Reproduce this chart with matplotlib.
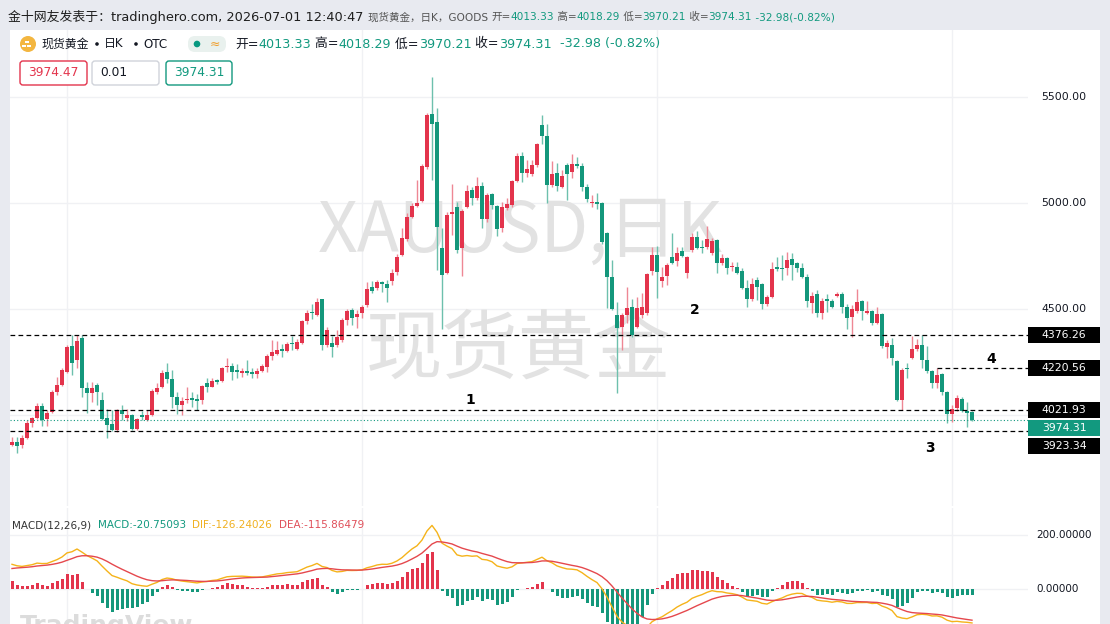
import numpy as np
import matplotlib
matplotlib.use("Agg")
import matplotlib.pyplot as plt
from matplotlib.patches import Rectangle, FancyBboxPatch, Circle

plt.rcParams['font.family'] = ['DejaVu Sans', 'Noto Sans CJK SC']

# 现货黄金 日K  (open / high / low / close), 10 candles per row
opens = [
    3858, 3874, 3859, 3890, 3961, 3984, 4042, 3980, 4016, 4110,
    4142, 4204, 4325, 4259, 4362, 4126, 4102, 4142, 4071, 3984,
    3958, 3929, 4024, 3984, 4000, 3932, 4000, 3976, 4000, 4110,
    4134, 4204, 4168, 4083, 4047, 4071, 4079, 4077, 4071, 4152,
    4134, 4165, 4162, 4225, 4231, 4212, 4200, 4209, 4203, 4193,
    4209, 4228, 4278, 4288, 4313, 4303, 4341, 4310, 4338, 4445,
    4487, 4472, 4546, 4330, 4341, 4330, 4354, 4448, 4495, 4461,
    4483, 4519, 4605, 4597, 4629, 4618, 4634, 4676, 4755, 4829,
    4935, 4986, 5011, 5171, 5420, 5384, 4786, 4668, 4948, 4980,
    4786, 4983, 5061, 5022, 5080, 4923, 5042, 4986, 4881, 4975,
    4991, 5105, 5222, 5143, 5137, 5179, 5368, 5316, 5085, 5140,
    5077, 5179, 5148, 5184, 5175, 5077, 4998, 5005, 5002, 4860,
    4650, 4472, 4417, 4472, 4508, 4417, 4472, 4480, 4681, 4755,
    4633, 4656, 4747, 4728, 4775, 4668, 4778, 4838, 4794, 4794,
    4764, 4825, 4715, 4739, 4697, 4700, 4681, 4598, 4546, 4637,
    4618, 4524, 4555, 4697, 4692, 4692, 4734, 4715, 4692, 4650,
    4530, 4571, 4483, 4546, 4539, 4561, 4571, 4511, 4464, 4492,
    4539, 4483, 4492, 4435, 4476, 4319, 4330, 4256, 4071, 4223,
    4267, 4310, 4330, 4259, 4209, 4152, 4193, 4110, 4005, 4032,
    4074, 4020, 4013.33,
]
highs = [
    3898, 3895, 3906, 3976, 3992, 4058, 4055, 4024, 4118, 4181,
    4220, 4330, 4377, 4377, 4377, 4157, 4157, 4149, 4110, 4027,
    4024, 4027, 4047, 4027, 4005, 3984, 4020, 4024, 4121, 4149,
    4212, 4244, 4212, 4110, 4083, 4134, 4110, 4099, 4142, 4173,
    4173, 4168, 4228, 4267, 4244, 4241, 4220, 4259, 4220, 4220,
    4241, 4288, 4354, 4351, 4335, 4346, 4373, 4357, 4448, 4495,
    4524, 4550, 4547, 4413, 4373, 4401, 4456, 4498, 4503, 4495,
    4519, 4629, 4634, 4637, 4634, 4637, 4687, 4760, 4881, 4951,
    4998, 5108, 5182, 5423, 5593, 5446, 4881, 4959, 5090, 5006,
    4970, 5085, 5077, 5121, 5101, 5046, 5046, 4991, 5006, 5022,
    5108, 5234, 5242, 5203, 5203, 5281, 5415, 5373, 5200, 5190,
    5156, 5190, 5231, 5219, 5190, 5090, 5038, 5046, 5006, 4865,
    4731, 4534, 4480, 4602, 4546, 4555, 4577, 4668, 4791, 4797,
    4700, 4718, 4857, 4794, 4791, 4750, 4857, 4869, 4825, 4891,
    4835, 4829, 4759, 4747, 4723, 4723, 4692, 4637, 4645, 4650,
    4621, 4566, 4723, 4747, 4755, 4770, 4763, 4723, 4718, 4665,
    4582, 4590, 4550, 4571, 4546, 4582, 4582, 4524, 4519, 4593,
    4542, 4539, 4495, 4511, 4483, 4354, 4362, 4259, 4220, 4244,
    4373, 4357, 4377, 4325, 4212, 4220, 4200, 4115, 4047, 4094,
    4083, 4063, 4018.29,
]
lows = [
    3854, 3822, 3843, 3885, 3945, 3980, 3948, 3948, 4011, 4094,
    4138, 4197, 4189, 4220, 4087, 4008, 4063, 4047, 3976, 3890,
    3926, 3921, 3976, 3973, 3929, 3929, 3976, 3973, 3995, 4099,
    4126, 4149, 4031, 4005, 4000, 4055, 4039, 4024, 4050, 4110,
    4130, 4146, 4157, 4204, 4165, 4173, 4178, 4189, 4173, 4173,
    4204, 4204, 4259, 4283, 4272, 4299, 4307, 4307, 4335, 4429,
    4451, 4467, 4307, 4322, 4275, 4322, 4346, 4424, 4424, 4409,
    4456, 4511, 4574, 4590, 4582, 4535, 4613, 4660, 4750, 4822,
    4928, 4983, 5006, 5159, 5108, 4684, 4404, 4665, 4849, 4762,
    4656, 4975, 4991, 5014, 4881, 4912, 4970, 4844, 4865, 4967,
    4983, 5101, 5101, 5124, 5127, 5168, 5278, 4998, 5077, 5058,
    5069, 5014, 5116, 5164, 5058, 5006, 4980, 4970, 4807, 4503,
    4495, 4102, 4307, 4433, 4367, 4409, 4456, 4472, 4660, 4550,
    4602, 4613, 4712, 4703, 4744, 4645, 4770, 4782, 4765, 4782,
    4755, 4668, 4708, 4665, 4681, 4665, 4593, 4508, 4539, 4542,
    4499, 4514, 4550, 4681, 4637, 4660, 4637, 4676, 4645, 4511,
    4480, 4464, 4451, 4487, 4503, 4555, 4483, 4404, 4369, 4483,
    4448, 4476, 4425, 4429, 4315, 4267, 4236, 4067, 4023, 4173,
    4263, 4303, 4220, 4200, 4126, 4126, 4094, 3964, 3968, 4020,
    4015, 3945, 3970.21,
]
closes = [
    3874, 3854, 3890, 3964, 3984, 4042, 3976, 4011, 4110, 4142,
    4212, 4322, 4247, 4351, 4126, 4102, 4126, 4110, 3980, 3953,
    3929, 4024, 4005, 4000, 3932, 3980, 3992, 4000, 4115, 4126,
    4197, 4168, 4087, 4047, 4068, 4077, 4071, 4068, 4136, 4134,
    4162, 4156, 4220, 4233, 4204, 4203, 4208, 4196, 4193, 4209,
    4231, 4278, 4299, 4307, 4303, 4335, 4333, 4346, 4445, 4483,
    4480, 4535, 4330, 4401, 4319, 4366, 4448, 4492, 4456, 4476,
    4508, 4593, 4587, 4626, 4616, 4597, 4668, 4745, 4833, 4935,
    4986, 5002, 5175, 5415, 5373, 4885, 4660, 4943, 4959, 4778,
    4964, 5058, 5022, 5080, 4923, 5038, 4991, 4876, 4980, 4995,
    5105, 5222, 5143, 5162, 5181, 5278, 5316, 5085, 5137, 5080,
    5127, 5137, 5184, 5175, 5077, 5017, 5005, 4995, 4818, 4652,
    4499, 4409, 4472, 4503, 4377, 4503, 4511, 4665, 4755, 4676,
    4650, 4708, 4718, 4763, 4750, 4744, 4838, 4786, 4786, 4829,
    4821, 4715, 4739, 4692, 4703, 4671, 4598, 4546, 4618, 4602,
    4524, 4558, 4687, 4687, 4687, 4731, 4708, 4692, 4650, 4539,
    4561, 4480, 4539, 4539, 4508, 4571, 4508, 4456, 4499, 4534,
    4492, 4492, 4433, 4476, 4325, 4338, 4267, 4071, 4212, 4218,
    4310, 4330, 4259, 4209, 4152, 4189, 4110, 4005, 4027, 4079,
    4020, 4011, 3974.31,
]

# horizontal levels drawn on the chart
full_levels = [4376.26, 4021.93, 3923.34]
short_level = 4220.56
short_level_start = 185
last_price = 3974.31
price_ticks = [5500, 5000, 4500]
grid_prices = [4000, 4500, 5000, 5500]
macd_ticks = [200, 0]
month_lines = [11, 70, 129, 188]
wave_labels = ['1', '2', '3', '4']
wave_pos = [(91.6, 4071), (136.6, 4495), (183.6, 3844), (195.8, 4264)]

ema_fast0, ema_slow0, dea0 = 3830, 3735, 72

RED = '#e3344c'
GREEN = '#14977b'
RED_W = '#ee8794'
GREEN_W = '#6dc0ad'
TEAL = '#12997f'
GRID = '#f0f1f4'

W, H = 1110, 624
fig = plt.figure(figsize=(W / 100, H / 100), dpi=100, facecolor='#e8eaf0')
fig.patches.append(Rectangle((10 / W, 0), 1090 / W, 1 - 30 / H, transform=fig.transFigure,
                             facecolor='white', edgecolor='none', zorder=-1))

# main panel: pixel rows 30..506, candle i sits at x = 12 + 5 i
ax = fig.add_axes([10 / W, 1 - 506 / H, 1018 / W, 476 / H])
ax.set_xlim(-0.4, 203.2)
ax.set_ylim(3570.7, 5816)
ax.set_facecolor('none')
for s in ax.spines.values():
    s.set_visible(False)
ax.set_xticks([])
ax.set_yticks([])

for p in grid_prices:
    ax.axhline(p, color=GRID, lw=1, zorder=0)
for m in month_lines:
    ax.axvline(m, color=GRID, lw=1, zorder=0)

# watermark
ax.text(520 / W, 1 - 232 / H, 'XAUUSD,日K', transform=fig.transFigure, fontsize=50,
        color='#e2e2e2', ha='center', va='center', zorder=0.5, family=['Noto Sans CJK SC'])
ax.text(518 / W, 1 - 352 / H, '现货黄金', transform=fig.transFigure, fontsize=55,
        color='#e2e2e2', ha='center', va='center', zorder=0.5, family=['Noto Sans CJK SC'])

o = np.array(opens, float)
h = np.array(highs, float)
l = np.array(lows, float)
c = np.array(closes, float)
idx = np.arange(len(c))
up = c >= o
ax.vlines(idx, l, h, colors=np.where(up, RED_W, GREEN_W), lw=1, zorder=2)
ax.bar(idx, np.maximum(np.abs(c - o), 4), bottom=np.minimum(o, c), width=0.7,
       color=np.where(up, RED, GREEN), zorder=3)

dash = (3.8, 2.6)
for lv in full_levels:
    ax.axhline(lv, color='black', lw=0.9, dashes=dash, zorder=4)
ax.hlines(short_level, short_level_start, 203.2, color='black', lw=0.9, linestyles=[(0, dash)], zorder=4)
ax.axhline(last_price, color=TEAL, lw=0.8, linestyle=(0, (1, 2)), zorder=4)

for t, (xi, yp) in zip(wave_labels, wave_pos):
    ax.text(xi, yp, t, fontsize=10, fontweight='bold', color='black', ha='center', va='center', zorder=5)

# right price scale
yt = ax.get_yaxis_transform()
for p in price_ticks:
    ax.text(1.0128, p, '%.2f' % p, transform=yt, fontsize=7.8, color='#131722', va='center', ha='left',
            clip_on=False)

# price tags, pushed apart so they do not overlap (like the platform does)
tags = sorted([(4376.26, 'black'), (4220.56, 'black'), (4021.93, 'black'),
               (last_price, TEAL), (3923.34, 'black')], reverse=True)
units_per_px = (5816 - 3570.7) / 476.0
box_h = 16 * units_per_px
min_gap = 17.6 * units_per_px
prev = None
for lv, fc in tags:
    yc = lv if prev is None else min(lv, prev - min_gap)
    prev = yc
    ax.add_patch(Rectangle((1.0, yc - box_h / 2), 0.0707, box_h, transform=yt, facecolor=fc,
                           edgecolor='none', clip_on=False, zorder=6))
    ax.text(1.0354, yc, '%.2f' % lv, transform=yt, fontsize=7.8, color='white', va='center', ha='center',
            clip_on=False, zorder=7)

# MACD panel: pixel rows 508..624, 200 units per 54 px
def ema(vals, n, start):
    a = 2.0 / (n + 1)
    out = []
    e = start
    for v in vals:
        e = e + a * (v - e)
        out.append(e)
    return np.array(out)

dif = ema(c, 12, ema_fast0) - ema(c, 26, ema_slow0)
dea = ema(dif, 9, dea0)
hist = 2 * (dif - dea)

ax2 = fig.add_axes([10 / W, 0, 1018 / W, 116 / H])
ax2.set_xlim(-0.4, 203.2)
ax2.set_ylim(-129.6, 300)
ax2.set_facecolor('none')
for s in ax2.spines.values():
    s.set_visible(False)
ax2.set_xticks([])
ax2.set_yticks([])
for p in macd_ticks:
    ax2.axhline(p, color=GRID, lw=1, zorder=0)
for m in month_lines:
    ax2.axvline(m, color=GRID, lw=1, zorder=0)
ax2.bar(idx, hist, width=0.6, color=np.where(hist >= 0, RED, GREEN), zorder=2)
ax2.plot(idx, dif, color='#f5b31a', lw=1, zorder=3)
ax2.plot(idx, dea, color='#e5484d', lw=1, zorder=3)
yt2 = ax2.get_yaxis_transform()
for p in macd_ticks:
    ax2.text(1.0079, p, '%.5f' % p, transform=yt2, fontsize=7.5, color='#131722', va='center', ha='left',
             clip_on=False)

# overlay in pixel coordinates for header / legends
axp = fig.add_axes([0, 0, 1, 1], zorder=10)
axp.set_xlim(0, W)
axp.set_ylim(H, 0)
axp.axis('off')
rend = fig.canvas.get_renderer()

def seq_text(x, y, parts):
    for s, colr, size in parts:
        t = axp.text(x, y, s, fontsize=size, color=colr, va='center', ha='left')
        x += t.get_window_extent(rend).width
    return x

seq_text(8, 17, [('金十网友发表于：tradinghero.com, 2026-07-01 12:40:47 ', '#1e1e1e', 9.25),
                 ('现货黄金，日K，GOODS ', '#555555', 7.6),
                 ('开=', '#555555', 7.6), ('4013.33', TEAL, 7.6),
                 (' 高=', '#555555', 7.6), ('4018.29', TEAL, 7.6),
                 (' 低=', '#555555', 7.6), ('3970.21', TEAL, 7.6),
                 (' 收=', '#555555', 7.6), ('3974.31', TEAL, 7.6),
                 (' -32.98(-0.82%)', TEAL, 7.6)])

axp.add_patch(Circle((28, 44), 8, facecolor='#f3b640', edgecolor='none'))
for bx, by in [(24, 46), (29, 46), (26.5, 42)]:
    axp.add_patch(Rectangle((bx - 2, by - 1.3), 4, 2.6, facecolor='white', edgecolor='none'))
for xs, s in [(41, '现货黄金'), (104, '日K'), (143, 'OTC')]:
    axp.text(xs, 44, s, fontsize=8.6, color='#131722', va='center', ha='left')
for xs in [97, 136]:
    axp.add_patch(Circle((xs, 44), 1.8, facecolor='#131722', edgecolor='none'))
axp.add_patch(FancyBboxPatch((188, 36), 38, 16, boxstyle='round,pad=0,rounding_size=7',
                             facecolor='#e9f1ee', edgecolor='none'))
axp.add_patch(Circle((197, 44), 3.3, facecolor='#089981', edgecolor='none'))
axp.text(215, 44, '≈', fontsize=9, color='#f0a030', ha='center', va='center')
seq_text(235, 44, [('开=', '#131722', 9.2), ('4013.33', TEAL, 9.2),
                   (' 高=', '#131722', 9.2), ('4018.29', TEAL, 9.2),
                   (' 低=', '#131722', 9.2), ('3970.21', TEAL, 9.2),
                   (' 收=', '#131722', 9.2), ('3974.31', TEAL, 9.2),
                   ('  -32.98 (-0.82%)', TEAL, 9.2)])

for x0, w, txt, ec, tc in [(20, 67, '3974.47', '#e3344c', '#e3344c'),
                           (92, 67, '0.01', '#d0d3da', '#131722'),
                           (166, 66, '3974.31', TEAL, TEAL)]:
    axp.add_patch(FancyBboxPatch((x0, 61), w, 24, boxstyle='round,pad=0,rounding_size=3',
                                 facecolor='white', edgecolor=ec, lw=1))
    if txt == '0.01':
        axp.text(x0 + 8, 73, txt, fontsize=8.8, color=tc, va='center', ha='left')
    else:
        axp.text(x0 + w / 2, 73, txt, fontsize=8.8, color=tc, va='center', ha='center')

seq_text(12, 525, [('MACD(12,26,9)  ', '#333333', 7.5), ('MACD:-20.75093  ', TEAL, 7.5),
                   ('DIF:-126.24026  ', '#f0b020', 7.5), ('DEA:-115.86479', '#e0505a', 7.5)])
axp.text(20, 614, 'TradingView', fontsize=18, color='#dcdcdc', va='top', ha='left', fontweight='bold')

fig.savefig('out.png', dpi=100, facecolor=fig.get_facecolor())
